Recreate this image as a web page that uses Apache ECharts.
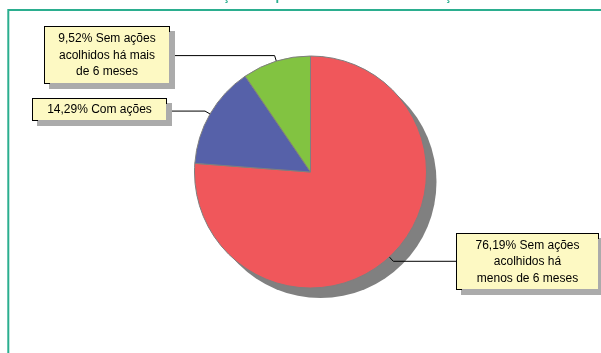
<!DOCTYPE html>
<html><head><meta charset="utf-8">
<script src="https://cdn.jsdelivr.net/npm/echarts@6/dist/echarts.min.js"></script>
<style>html,body{margin:0;padding:0;background:#fff}#c{width:601px;height:353px}</style>
</head><body><div id="c"></div>
<script>
// ---- data ----
const categories = ['Sem ações\nacolhidos há\nmenos de 6 meses', 'Com ações', 'Sem ações\nacolhidos há mais\nde 6 meses'];
const values = [76.19, 14.29, 9.52];
const titleText = 'Situação dos processos conforme a atuação';

// ---- styles / layout ----
const sliceColors = ['#F0575B', '#5661A9', '#82C341'];
const CX = 310.5, CY = 172, R = 116;
const labelBoxes = [
  { left: 457, top: 234, width: 133, lineHeight: 16.5, padding: [3, 4, 2.5, 4], side: 'right' },
  { left: 33, top: 99, width: 125, lineHeight: 16, padding: [3, 4, 2, 4], side: 'left' },
  { left: 45, top: 27, width: 116, lineHeight: 16.5, padding: [3.5, 4, 3, 4], side: 'left' }
];

const total = values.reduce((a, b) => a + b, 0);
function midAngle(i) {
  let before = 0;
  for (let k = 0; k < i; k++) before += values[k];
  return (before + values[i] / 2) / total * 2 * Math.PI;
}
function pt(a, r) { return [CX + r * Math.sin(a), CY - r * Math.cos(a)]; }

const chart = echarts.init(document.getElementById('c'), null, { renderer: 'canvas' });

const pieData = values.map((v, i) => ({
  value: v,
  name: categories[i],
  itemStyle: { color: sliceColors[i] },
  label: {
    width: labelBoxes[i].width,
    lineHeight: labelBoxes[i].lineHeight,
    padding: labelBoxes[i].padding
  }
}));

chart.setOption({
  backgroundColor: '#ffffff',
  animation: false,
  graphic: [
    {
      type: 'rect', z: 0, silent: true,
      shape: { x: 8.3, y: 10, width: 800, height: 600 },
      style: { fill: 'none', stroke: '#2BAE8F', lineWidth: 2 }
    },
    {
      type: 'text', z: 0, silent: true,
      style: {
        text: titleText, x: 191, y: -3.5,
        font: 'bold 13px "Liberation Sans", Arial, sans-serif',
        fill: '#2BAE8F', align: 'left', verticalAlign: 'middle'
      }
    }
  ],
  series: [
    {
      type: 'pie', silent: true, z: 1,
      center: [CX + 10, CY + 10], radius: R,
      startAngle: 90,
      label: { show: false }, labelLine: { show: false },
      itemStyle: { color: '#808080', borderWidth: 0 },
      emphasis: { disabled: true },
      data: [{ value: total, name: '' }]
    },
    {
      type: 'pie', silent: true, z: 2,
      center: [CX, CY], radius: R,
      startAngle: 90, clockwise: true,
      avoidLabelOverlap: false,
      emphasis: { disabled: true },
      itemStyle: { borderColor: '#7F7F7F', borderWidth: 1 },
      label: {
        show: true, position: 'outside',
        formatter: p => p.value.toFixed(2).replace('.', ',') + '% ' + p.name,
        fontFamily: '"Liberation Sans", Arial, sans-serif',
        fontSize: 12, color: '#000',
        align: 'center',
        backgroundColor: '#FDF9C3',
        borderColor: '#000', borderWidth: 1,
        shadowColor: '#ABABAB', shadowOffsetX: 5, shadowOffsetY: 5, shadowBlur: 0
      },
      labelLine: { show: true, lineStyle: { color: '#000', width: 1 } },
      labelLayout: function (params) {
        const i = params.dataIndex;
        const b = labelBoxes[i];
        const a = midAngle(i);
        const p0 = pt(a, R * 0.89);
        const p1 = pt(a, R * 1.05);
        const outerW = b.width + b.padding[1] + b.padding[3];
        const p2 = [b.side === 'left' ? b.left + outerW : b.left, p1[1]];
        return {
          x: b.left + outerW / 2, y: b.top, align: 'center', verticalAlign: 'top',
          labelLinePoints: [p0, p1, p2]
        };
      },
      data: pieData
    }
  ]
});
</script>
</body></html>
